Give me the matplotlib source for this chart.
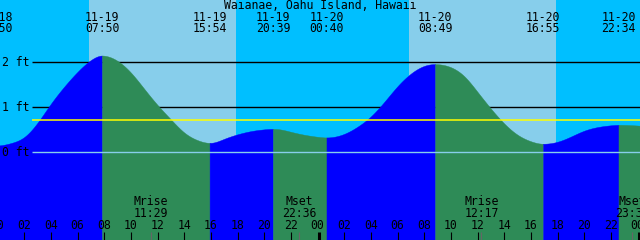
import numpy as np
import matplotlib
matplotlib.use("Agg")
import matplotlib.pyplot as plt

# ---------------- data ----------------
title = "Waianae, Oahu Island, Hawaii"

# tide extremes (day offset relative to 11-19)
event_dates = ["11-18", "11-19", "11-19", "11-19", "11-20", "11-20", "11-20", "11-20"]
event_times = ["23:50", "07:50", "15:54", "20:39", "00:40", "08:49", "16:55", "22:34"]
event_days = [-1, 0, 0, 0, 1, 1, 1, 1]
event_kinds = ["L", "H", "L", "H", "L", "H", "L", "H"]
event_heights = [0.15, 2.15, 0.21, 0.52, 0.33, 1.96, 0.19, 0.61]

# tide height read at each hour from 11-19 00:00 (ft)
sample_hours = list(range(0, 49)) + [48.5]
sample_heights = [
    0.151, 0.205, 0.34, 0.66, 1.08, 1.46, 1.79, 2.05, 2.147, 2.03,
    1.77, 1.41, 1.05, 0.73, 0.44, 0.27, 0.2105, 0.30, 0.40, 0.47,
    0.51, 0.516, 0.455, 0.39, 0.345, 0.335, 0.41, 0.57, 0.80, 1.12,
    1.47, 1.75, 1.92, 1.958, 1.89, 1.69, 1.34, 0.97, 0.64, 0.39,
    0.245, 0.1903, 0.235, 0.35, 0.48, 0.56, 0.60, 0.609, 0.595, 0.585,
]

moon_labels = ["Mrise", "Mset", "Mrise", "Mset"]
moon_times = ["11:29", "22:36", "12:17", "23:36"]
moon_days = [0, 0, 1, 1]

sunrise_times = ["06:51", "06:51"]
sunset_times = ["17:53", "17:53"]
sun_days = [0, 1]

level_values = [0, 1, 2]
level_labels = ["0 ft", "1 ft", "2 ft"]
mean_level = 0.71

hour_ticks = list(range(0, 49, 2))
hour_labels = ["%02d" % (h % 24) for h in hour_ticks]

# ---------------- layout constants ----------------
W, H = 640, 240
PX_PER_H = 40.0 / 3.0
X_OFF = -2.4
Y0_PX = 152.3
PX_PER_FT = 45.0

NIGHT = "#00BFFF"
DAY = "#87CEEB"
RISE = "#0000FF"
FALL = "#2E8B57"
FONT = dict(family="DejaVu Sans Mono", fontsize=8.3)


def hrs(t, day):
    hh, mm = t.split(":")
    return int(hh) + int(mm) / 60.0 + 24 * day


def hx(px):
    return (px - X_OFF) / PX_PER_H


def fy(py):
    return (Y0_PX - py) / PX_PER_FT


def natural_spline(x, y, xn):
    x = np.asarray(x, float)
    y = np.asarray(y, float)
    n = len(x)
    h = np.diff(x)
    A = np.zeros((n, n))
    r = np.zeros(n)
    A[0, 0] = A[-1, -1] = 1.0
    for i in range(1, n - 1):
        A[i, i - 1] = h[i - 1]
        A[i, i] = 2 * (h[i - 1] + h[i])
        A[i, i + 1] = h[i]
        r[i] = 6 * ((y[i + 1] - y[i]) / h[i] - (y[i] - y[i - 1]) / h[i - 1])
    M = np.linalg.solve(A, r)
    idx = np.clip(np.searchsorted(x, xn) - 1, 0, n - 2)
    hi = h[idx]
    a = (x[idx + 1] - xn) / hi
    b = (xn - x[idx]) / hi
    return (a * y[idx] + b * y[idx + 1]
            + ((a**3 - a) * M[idx] + (b**3 - b) * M[idx + 1]) * hi**2 / 6.0)


ev_h = [hrs(t, d) for t, d in zip(event_times, event_days)]

pts = sorted(list(zip(sample_hours, sample_heights)) + list(zip(ev_h, event_heights)))
px_ = [p[0] for p in pts]
py_ = [p[1] for p in pts]

fig = plt.figure(figsize=(W / 100, H / 100), dpi=100)
ax = fig.add_axes([0, 0, 1, 1])
ax.axis("off")
xmin, xmax = hx(0), hx(W)
ax.set_xlim(xmin, xmax)
ax.set_ylim(fy(H), fy(0))

# background: night / day
ax.axvspan(xmin - 1, xmax + 1, color=NIGHT, lw=0, zorder=0)
for sr, ss, d in zip(sunrise_times, sunset_times, sun_days):
    ax.axvspan(hrs(sr, d), hrs(ss, d), color=DAY, lw=0, zorder=0.5)

# black level lines (behind tide)
ax.hlines([v for v in level_values if v != 0], hx(32), xmax + 1,
          color="black", lw=1.0, zorder=1)

# tide fill: blue while rising, green while falling
bottom = fy(H) - 1
bounds = [px_[0]] + ev_h[1:] + [px_[-1]]
for i in range(len(bounds) - 1):
    a, b = bounds[i], bounds[i + 1]
    if i < len(ev_h) - 1:
        rising = event_kinds[i + 1] == "H"
    else:
        rising = event_kinds[-1] == "L"
    tt = np.linspace(a, b, 400)
    yy = natural_spline(px_, py_, tt)
    col = RISE if rising else FALL
    ax.fill_between(tt, yy, bottom, color=col, lw=0.3, edgecolor=col, zorder=2)

# zero line and mean level line (on top)
ax.hlines(0, hx(32), xmax + 1, color=DAY, lw=1.0, zorder=3)
ax.hlines(mean_level, hx(32), xmax + 1, color="#FFFF00", lw=1.1, zorder=3)

# level labels
for v, lab in zip(level_values, level_labels):
    ax.text(hx(2), v, lab, ha="left", va="center", zorder=4, **FONT)

# title
ax.text(hx(320), fy(5.5), title, ha="center", va="center", zorder=4, **FONT)

# event labels
for h_, dt, tm in zip(ev_h, event_dates, event_times):
    ax.text(h_, fy(17.7), dt, ha="center", va="center", zorder=4, **FONT)
    ax.text(h_, fy(29.0), tm, ha="center", va="center", zorder=4, **FONT)

# moon labels and marks
for lab, tm, d in zip(moon_labels, moon_times, moon_days):
    mh = hrs(tm, d)
    ax.text(mh, fy(201.5), lab, ha="center", va="center", zorder=4, **FONT)
    ax.text(mh, fy(213.5), tm, ha="center", va="center", zorder=4, **FONT)
    ax.vlines(mh, fy(231.7), fy(H + 1), color="#666666", lw=0.8, zorder=4)

# hour ticks and labels
for h_, lab in zip(hour_ticks, hour_labels):
    ax.text(h_, fy(225.5), lab, ha="center", va="center", zorder=4, **FONT)
    if h_ % 24 == 0:
        ax.vlines(h_ + 0.08, fy(231.7), fy(H + 1), color="black", lw=2.2, zorder=4)
    else:
        ax.vlines(h_, fy(231.7), fy(H + 1), color="black", lw=0.8, zorder=4)

fig.savefig("out.png", dpi=100)
